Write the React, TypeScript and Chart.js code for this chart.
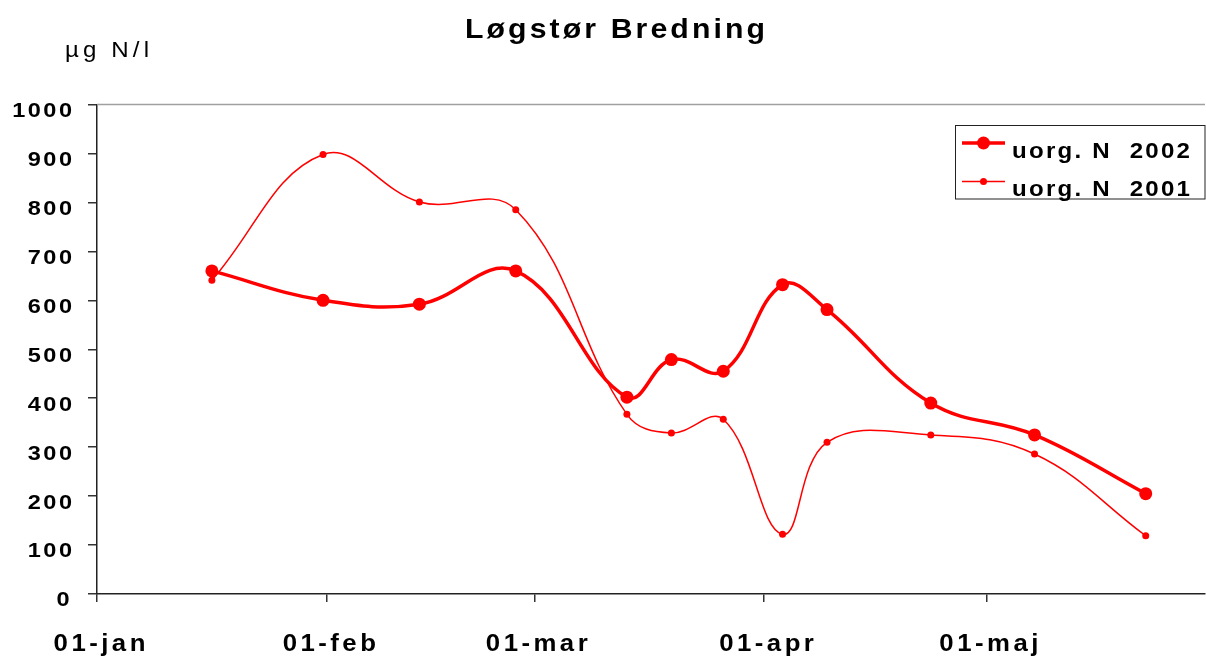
import { useEffect, useRef } from "react";
import { Chart, registerables } from "chart.js";

Chart.register(...registerables);

const TITLE = "Løgstør Bredning";
const Y_UNIT = "µg N/l";
const LABEL_2002 = "uorg. N  2002";
const LABEL_2001 = "uorg. N  2001";

const SAMPLE_DATES = [
  "2002-01-16", "2002-01-31", "2002-02-13", "2002-02-26", "2002-03-13", "2002-03-19",
  "2002-03-26", "2002-04-03", "2002-04-09", "2002-04-23", "2002-05-07", "2002-05-22",
];
const VALUES_2002 = [660, 600, 592, 660, 402, 479, 455, 632, 581, 390, 325, 205];
const VALUES_2001 = [641, 898, 801, 785, 367, 329, 357, 122, 310, 325, 286, 119];

const MONTH_TICK_DATES = ["2002-01-01", "2002-02-01", "2002-03-01", "2002-04-01", "2002-05-01"];
const MONTH_TICK_LABELS = ["01-jan", "01-feb", "01-mar", "01-apr", "01-maj"];
const X_END_DATE = "2002-05-30";
const Y_MIN = 0;
const Y_MAX = 1000;
const Y_STEP = 100;

const FONT = "'Liberation Sans', Arial, sans-serif";
const RED = "#ff0000";
const SX = 1.12; // slight horizontal stretch of the original rendering

function dayIndex(s: string): number {
  const [y, m, d] = s.split("-").map(Number);
  return (Date.UTC(y, m - 1, d) - Date.UTC(y, 0, 1)) / 86400000;
}
// samples are placed at noon of their day
const noon = (s: string) => dayIndex(s) + 0.5;

// draws stretched text; spacing in unscaled px, or fitted to targetWidth
function drawText(
  ctx: CanvasRenderingContext2D,
  text: string,
  x: number,
  baseline: number,
  align: "left" | "center" | "right",
  opts: { spacing?: number; target?: number }
) {
  ctx.save();
  (ctx as any).letterSpacing = "0px";
  ctx.textAlign = "left";
  ctx.textBaseline = "alphabetic";
  const w0 = ctx.measureText(text).width;
  const gaps = Math.max(1, text.length - 1);
  let sp = opts.spacing ?? 0;
  if (opts.target !== undefined) sp = (opts.target / SX - w0) / gaps;
  const w = w0 + sp * gaps; // unscaled width
  let left = 0;
  if (align === "center") left = -w / 2;
  if (align === "right") left = -w;
  ctx.translate(x, baseline);
  ctx.scale(SX, 1);
  (ctx as any).letterSpacing = sp + "px";
  ctx.fillText(text, left, 0);
  ctx.restore();
}

const decorPlugin = {
  id: "decor",
  beforeDatasetsDraw(chart: any) {
    const ctx = chart.ctx as CanvasRenderingContext2D;
    const { left, right, top } = chart.chartArea;
    ctx.save();
    ctx.strokeStyle = "#a0a0a0";
    ctx.lineWidth = 1.5;
    ctx.beginPath();
    ctx.moveTo(left, top);
    ctx.lineTo(right, top);
    ctx.stroke();
    ctx.restore();
  },
  afterDraw(chart: any) {
    const ctx = chart.ctx as CanvasRenderingContext2D;
    ctx.save();
    ctx.fillStyle = "#000";

    // tick labels
    const xs = chart.scales.x;
    const tickDays = MONTH_TICK_DATES.map(dayIndex);
    ctx.font = `bold 23px ${FONT}`;
    xs.ticks.forEach((t: any) => {
      const i = tickDays.indexOf(t.value);
      if (i < 0) return;
      drawText(ctx, MONTH_TICK_LABELS[i], xs.getPixelForValue(t.value) + 2.5, 650.5, "center", { spacing: 3.1 });
    });
    const ys = chart.scales.y;
    ctx.font = `bold 21px ${FONT}`;
    ys.ticks.forEach((t: any) => {
      drawText(ctx, String(t.value), 72, ys.getPixelForValue(t.value) + 12.4, "right", { spacing: 2.2 });
    });

    // title
    ctx.font = `bold 27px ${FONT}`;
    drawText(ctx, TITLE, 615, 37.5, "center", { target: 300 });
    // unit
    ctx.font = `21.5px ${FONT}`;
    drawText(ctx, Y_UNIT, 65, 57, "left", { target: 84 });

    // legend
    const bx = 955.5, by = 125.5, bw = 249.5, bh = 73.5;
    ctx.fillStyle = "#fff";
    ctx.fillRect(bx, by, bw, bh);
    ctx.strokeStyle = "#222";
    ctx.lineWidth = 1;
    ctx.strokeRect(bx, by, bw, bh);

    const rows = [
      { label: LABEL_2002, y: 143, lw: 3.5, r: 6.5, base: 158 },
      { label: LABEL_2001, y: 181.5, lw: 1.5, r: 3.5, base: 196 },
    ];
    for (const row of rows) {
      ctx.strokeStyle = RED;
      ctx.lineWidth = row.lw;
      ctx.beginPath();
      ctx.moveTo(962, row.y);
      ctx.lineTo(1005, row.y);
      ctx.stroke();
      ctx.fillStyle = RED;
      ctx.beginPath();
      ctx.arc(983.5, row.y, row.r, 0, Math.PI * 2);
      ctx.fill();
      ctx.fillStyle = "#000";
      ctx.font = `bold 21.5px ${FONT}`;
      drawText(ctx, row.label, 1012, row.base, "left", { target: 178 });
    }
    ctx.restore();
  },
};

export default function App() {
  const ref = useRef<HTMLCanvasElement | null>(null);

  useEffect(() => {
    const canvas = ref.current;
    if (!canvas) return;
    const xs = SAMPLE_DATES.map(noon);
    const tickValues = MONTH_TICK_DATES.map(dayIndex);

    const chart = new Chart(canvas, {
      type: "line",
      data: {
        datasets: [
          {
            label: LABEL_2001,
            data: xs.map((x, i) => ({ x, y: VALUES_2001[i] })),
            borderColor: RED,
            backgroundColor: RED,
            borderWidth: 1.5,
            pointRadius: 3.5,
            pointBorderWidth: 0,
            pointBackgroundColor: RED,
            tension: 0.4,
          },
          {
            label: LABEL_2002,
            data: xs.map((x, i) => ({ x, y: VALUES_2002[i] })),
            borderColor: RED,
            backgroundColor: RED,
            borderWidth: 3.5,
            pointRadius: 6.5,
            pointBorderWidth: 0,
            pointBackgroundColor: RED,
            tension: 0.4,
          },
        ],
      },
      options: {
        responsive: false,
        animation: false,
        events: [],
        layout: { autoPadding: false, padding: { top: 104.5, right: 1, bottom: 0, left: 0 } },
        plugins: {
          legend: { display: false },
          title: { display: false },
          tooltip: { enabled: false },
        },
        scales: {
          x: {
            type: "linear",
            min: 0,
            max: noon(X_END_DATE),
            afterBuildTicks: (scale: any) => {
              scale.ticks = tickValues.map((v) => ({ value: v }));
            },
            afterFit: (scale: any) => {
              scale.height = 63;
              scale.paddingRight = 0;
              scale.paddingLeft = 0;
            },
            grid: {
              drawOnChartArea: false,
              drawTicks: true,
              tickLength: 8,
              color: "#333",
              lineWidth: 1.5,
            },
            border: { display: true, color: "#222", width: 1.5 },
            ticks: {
              display: false,
              autoSkip: false,
              maxRotation: 0,
              callback: (v: any) => {
                const i = tickValues.indexOf(Number(v));
                return i >= 0 ? MONTH_TICK_LABELS[i] : "";
              },
            },
          },
          y: {
            min: Y_MIN,
            max: Y_MAX,
            afterFit: (scale: any) => {
              scale.width = 97;
            },
            grid: {
              drawOnChartArea: false,
              drawTicks: true,
              tickLength: 9,
              color: "#333",
              lineWidth: 1.5,
            },
            border: { display: true, color: "#222", width: 1.5 },
            ticks: {
              display: false,
              stepSize: Y_STEP,
              callback: (v: any) => String(v),
            },
          },
        },
      } as any,
      plugins: [decorPlugin],
    });
    return () => chart.destroy();
  }, []);

  return (
    <div style={{ position: "fixed", left: 0, top: 0, width: 1206, height: 657, background: "#fff" }}>
      <canvas ref={ref} width={1206} height={657} style={{ display: "block", width: 1206, height: 657 }} />
    </div>
  );
}
